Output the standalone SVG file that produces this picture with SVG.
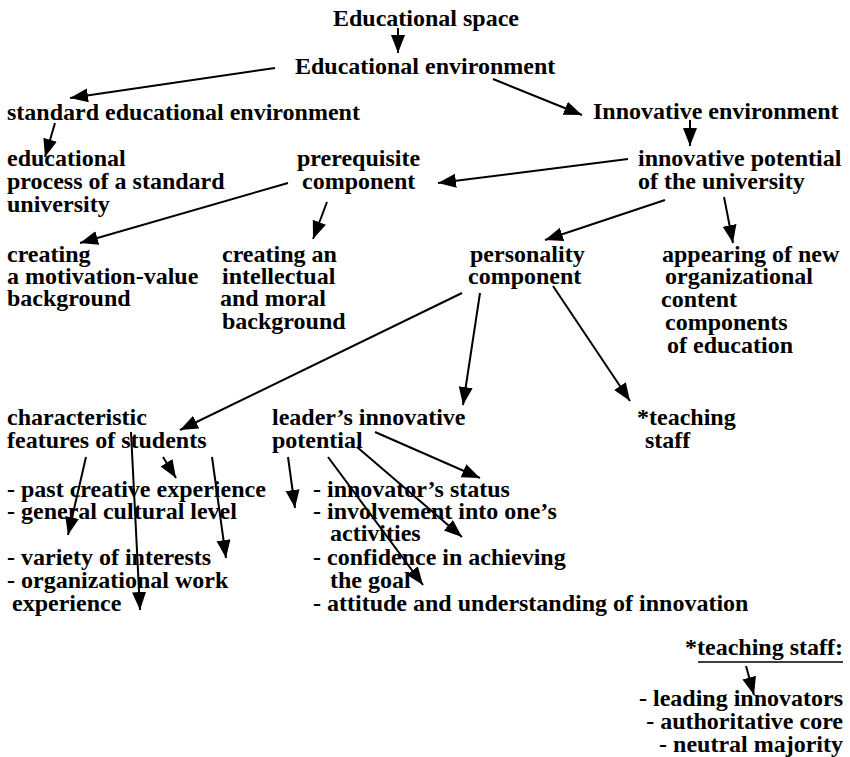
<svg xmlns="http://www.w3.org/2000/svg" width="850" height="757" viewBox="0 0 850 757">
<style>
text{font-family:"Liberation Serif","Times New Roman",serif;font-weight:bold;font-size:24px;fill:#000}
.r{text-anchor:end}
.c line{stroke:#000;stroke-width:2;marker-end:url(#ah)}
</style>
<defs>
<marker id="ah" markerUnits="userSpaceOnUse" markerWidth="20" markerHeight="16" refX="18" refY="7" orient="auto">
<path d="M0,0 L18,7 L0,14 z" fill="#000"/>
</marker>
</defs>
<rect width="850" height="757" fill="#fff"/>
<g id="n-space"><text x="333" y="26">Educational space</text></g>
<g id="n-env"><text x="295" y="74">Educational environment</text></g>
<g id="n-standard"><text x="7" y="120">standard educational environment</text></g>
<g id="n-innov-env"><text x="593" y="119">Innovative environment</text></g>
<g id="n-process"><text x="7" y="166">educational</text><text x="7" y="189">process of a standard</text><text x="7" y="212">university</text></g>
<g id="n-prereq"><text x="297" y="166">prerequisite</text><text x="302" y="189">component</text></g>
<g id="n-potential"><text x="638" y="166">innovative potential</text><text x="638" y="189">of the university</text></g>
<g id="n-motivation"><text x="7" y="262">creating</text><text x="7" y="284">a motivation-value</text><text x="7" y="306">background</text></g>
<g id="n-intellectual"><text x="222" y="262">creating an</text><text x="222" y="284">intellectual</text><text x="220" y="306">and moral</text><text x="222" y="329">background</text></g>
<g id="n-personality"><text x="470" y="262">personality</text><text x="468" y="284">component</text></g>
<g id="n-appearing"><text x="662" y="262">appearing of new</text><text x="665" y="284">organizational</text><text x="661" y="307">content</text><text x="665" y="330">components</text><text x="667" y="353">of education</text></g>
<g id="n-features"><text x="7" y="425">characteristic</text><text x="7" y="448">features of students</text></g>
<g id="n-leader"><text x="272" y="425">leader’s innovative</text><text x="272" y="448">potential</text></g>
<g id="n-teaching"><text x="637" y="425">*teaching</text><text x="645" y="448">staff</text></g>
<g id="n-students-list"><text x="7" y="497">- past creative experience</text><text x="7" y="519">- general cultural level</text><text x="7" y="565">- variety of interests</text><text x="7" y="588">- organizational work</text><text x="12" y="611">experience</text></g>
<g id="n-leader-list"><text x="313" y="497">- innovator’s status</text><text x="313" y="519">- involvement into one’s</text><text x="330" y="541">activities</text><text x="313" y="565">- confidence in achieving</text><text x="330" y="588">the goal</text><text x="313" y="611">- attitude and understanding of innovation</text></g>
<g id="n-staff-note"><text class="r" x="843" y="655">*teaching staff:</text><line x1="698" y1="662" x2="843" y2="662" stroke="#000" stroke-width="1.6"/></g>
<g id="n-staff-list"><text class="r" x="843" y="706">- leading innovators</text><text class="r" x="843" y="729">- authoritative core</text><text class="r" x="843" y="752">- neutral majority</text></g>
<g id="connectors" class="c">
<line x1="398" y1="28" x2="398" y2="53"/>
<line x1="275" y1="68" x2="70" y2="98"/>
<line x1="55" y1="123" x2="45" y2="157"/>
<line x1="493" y1="79" x2="582" y2="115"/>
<line x1="690" y1="120" x2="690" y2="146"/>
<line x1="628" y1="159" x2="438" y2="183"/>
<line x1="288" y1="183" x2="80" y2="243"/>
<line x1="327" y1="202" x2="313" y2="239"/>
<line x1="665" y1="200" x2="545" y2="240"/>
<line x1="724" y1="197" x2="733" y2="243"/>
<line x1="462" y1="293" x2="180" y2="430"/>
<line x1="480" y1="293" x2="463" y2="405"/>
<line x1="553" y1="286" x2="630" y2="401"/>
<line x1="86" y1="457" x2="68" y2="535"/>
<line x1="131" y1="432" x2="140" y2="610"/>
<line x1="163" y1="457" x2="176" y2="478"/>
<line x1="212" y1="457" x2="226" y2="558"/>
<line x1="288" y1="457" x2="295" y2="508"/>
<line x1="375" y1="432" x2="480" y2="478"/>
<line x1="357" y1="447" x2="462" y2="537"/>
<line x1="328" y1="457" x2="423" y2="585"/>
<line x1="746" y1="666" x2="754" y2="695"/>
</g>
</svg>
